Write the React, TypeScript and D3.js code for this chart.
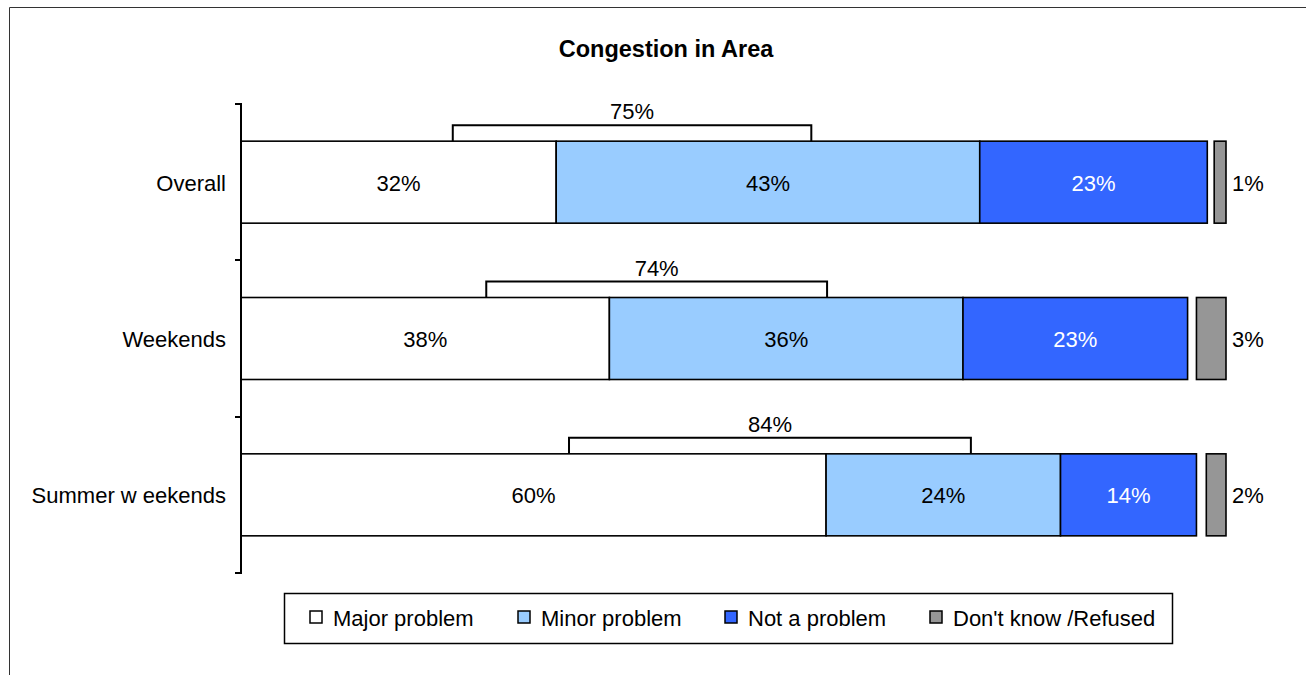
import React from "react";
import * as d3 from "d3";

const title = "Congestion in Area";
const categories = ["Overall", "Weekends", "Summer w eekends"];
const seriesNames = ["Major problem", "Minor problem", "Not a problem"];
const majorValues = [32.0, 37.4, 59.4];
const minorValues = [43.0, 35.9, 23.8];
const notValues = [23.1, 22.8, 13.8];
const dkValues = [1.2, 3.0, 2.0];
const majorLabels = ["32%", "38%", "60%"];
const minorLabels = ["43%", "36%", "24%"];
const notLabels = ["23%", "23%", "14%"];
const dkLabels = ["1%", "3%", "2%"];
const netLabels = ["75%", "74%", "84%"];
const netStart = [21.5, 24.9, 33.3];
const netEnd = [57.9, 59.5, 74.1];
const legendNames = ["Major problem", "Minor problem", "Not a problem", "Don't know /Refused"];

const colors = ["#FFFFFF", "#99CCFF", "#3366FF"];
const dkColor = "#969696";
const labelColors = ["#000", "#000", "#fff"];
const legendColors = ["#FFFFFF", "#99CCFF", "#3366FF", "#969696"];
const legendX = [310, 518, 725, 930];

const W = 1306;
const H = 675;
const FONT = "'Liberation Sans', Arial, sans-serif";

export default function App() {
  const x = d3.scaleLinear().domain([0, 100]).range([241, 1226]);
  const y = d3
    .scaleBand<string>()
    .domain(categories)
    .range([104, 573])
    .paddingInner(0.4755)
    .paddingOuter(0.4755 / 2);
  const bw = y.bandwidth();
  const step = y.step();
  const series = [majorValues, minorValues, notValues];
  const labels = [majorLabels, minorLabels, notLabels];

  const rows = categories.map((c, i) => {
    const vals = series.map((s) => s[i]);
    const cum = d3.cumsum(vals);
    return { c, i, vals, starts: vals.map((v, k) => cum[k] - v), ends: Array.from(cum) };
  });

  return (
    <svg
      width={W}
      height={H}
      style={{ position: "absolute", left: 0, top: 0, background: "#fff" }}
      fontFamily={FONT}
    >
      <line x1={9.5} y1={7.5} x2={W} y2={7.5} stroke="#333" strokeWidth={1} />
      <line x1={9.5} y1={7.5} x2={9.5} y2={H} stroke="#333" strokeWidth={1} />
      <text x={666} y={57} textAnchor="middle" fontSize={23.5} fontWeight="bold" fill="#000">
        {title}
      </text>

      {rows.map((r) => {
        const top = y(r.c)!;
        const cy = top + bw / 2;
        const bTop = top - 16;
        const x0 = x(netStart[r.i]);
        const x1 = x(netEnd[r.i]);
        const dk = dkValues[r.i];
        return (
          <g key={r.c}>
            {r.vals.map((v, k) => (
              <rect
                key={k}
                x={x(r.starts[k])}
                y={top}
                width={x(r.ends[k]) - x(r.starts[k])}
                height={bw}
                fill={colors[k]}
                stroke="#000"
                strokeWidth={1.6}
              />
            ))}
            {r.vals.map((v, k) => (
              <text
                key={"t" + k}
                x={(x(r.starts[k]) + x(r.ends[k])) / 2}
                y={cy + 1}
                textAnchor="middle"
                dominantBaseline="central"
                fontSize={22}
                fill={labelColors[k]}
              >
                {labels[k][r.i]}
              </text>
            ))}
            <rect
              x={x(100 - dk)}
              y={top}
              width={x(100) - x(100 - dk)}
              height={bw}
              fill={dkColor}
              stroke="#000"
              strokeWidth={1.6}
            />
            <text x={x(100) + 6} y={cy + 1} dominantBaseline="central" fontSize={22} fill="#000">
              {dkLabels[r.i]}
            </text>
            <path
              d={`M${x0},${top} V${bTop} H${x1} V${top}`}
              fill="none"
              stroke="#000"
              strokeWidth={2}
            />
            <text x={(x0 + x1) / 2} y={bTop - 6} textAnchor="middle" fontSize={22} fill="#000">
              {netLabels[r.i]}
            </text>
            <text x={226} y={cy + 1} textAnchor="end" dominantBaseline="central" fontSize={22} fill="#000">
              {r.c}
            </text>
          </g>
        );
      })}

      <line x1={241} y1={104} x2={241} y2={573} stroke="#000" strokeWidth={2} />
      {d3.range(categories.length + 1).map((k) => {
        const ty = Math.round(104 + k * step);
        return <line key={k} x1={235} y1={ty} x2={242} y2={ty} stroke="#000" strokeWidth={2} />;
      })}

      <rect x={284.5} y={593.5} width={888} height={50} fill="#fff" stroke="#000" strokeWidth={1.5} />
      {legendNames.map((n, k) => (
        <g key={n}>
          <rect
            x={legendX[k]}
            y={611}
            width={12}
            height={12}
            fill={legendColors[k]}
            stroke="#000"
            strokeWidth={1.5}
          />
          <text x={legendX[k] + 23} y={618} dominantBaseline="central" fontSize={22} fill="#000">
            {n}
          </text>
        </g>
      ))}
    </svg>
  );
}
